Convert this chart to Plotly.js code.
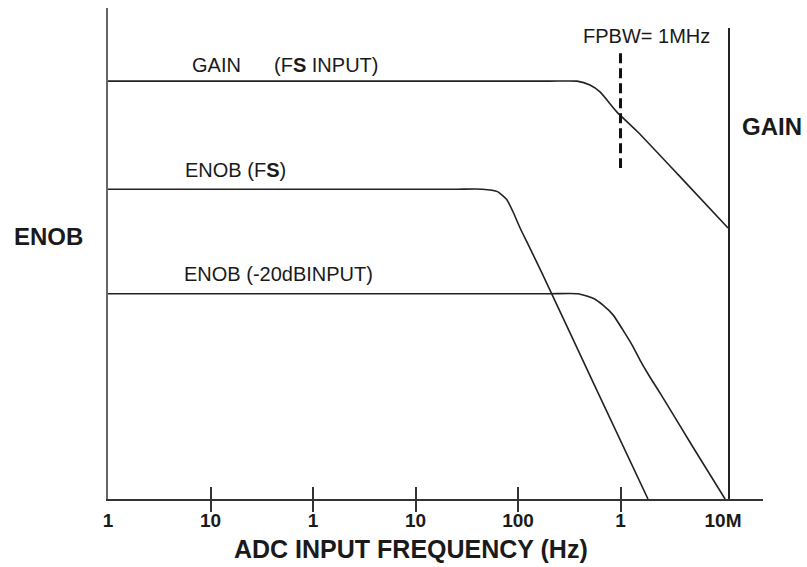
<!DOCTYPE html>
<html>
<head>
<meta charset="utf-8">
<script src="https://cdn.plot.ly/plotly-3.0.1.min.js"></script>
<style>html,body{margin:0;padding:0;background:#fff;}#chart{width:807px;height:567px;}</style>
</head>
<body>
<div id="chart"></div>
<script>
// Frequency axis: decade positions (log scale), with the reference's tick labels
const tickValues = [1, 10, 100, 1e3, 1e4, 1e5, 1e6];
const tickLabels = ["1", "10", "1", "10", "100", "1", "10M"];
const innerTickValues = [10, 100, 1e3, 1e4, 1e5];

// GAIN (FS INPUT) curve, log10(frequency) and relative level
const gainLogF = [0, 4.30, 4.576, 4.702, 4.800, 4.966, 5.171, 5.61, 6.049];
const gainLevel = [8.51, 8.51, 8.51, 8.43, 8.29, 7.88, 7.47, 6.50, 5.52];

// ENOB (FS) curve
const enobFsLogF = [0, 3.40, 3.65, 3.80, 3.89, 3.951, 4.020, 4.088, 4.234, 4.75, 5.268];
const enobFsLevel = [6.31, 6.31, 6.31, 6.26, 6.10, 5.85, 5.52, 5.23, 4.60, 2.30, 0];

// ENOB (-20dB INPUT) curve
const enob20LogF = [0, 4.30, 4.585, 4.732, 4.829, 4.927, 5.024, 5.112, 5.190, 5.288, 5.385, 5.70, 6.020];
const enob20Level = [4.18, 4.18, 4.18, 4.09, 3.95, 3.75, 3.44, 3.14, 2.83, 2.48, 2.16, 1.08, 0];

// FPBW marker at 1 MHz (the "1" tick), vertical extent in level units
const fpbwFreq = 1e5;
const fpbwLevels = [9.08, 6.74];

const toHz = a => a.map(v => Math.pow(10, v));
const curveLine = {color: '#222', width: 1.6, shape: 'spline', smoothing: 0.5};

const logRange = [0, 6.39];

const traces = [
  {x: toHz(gainLogF), y: gainLevel, type: 'scatter', mode: 'lines', line: curveLine, hoverinfo: 'skip'},
  {x: toHz(enobFsLogF), y: enobFsLevel, type: 'scatter', mode: 'lines', line: curveLine, hoverinfo: 'skip'},
  {x: toHz(enob20LogF), y: enob20Level, type: 'scatter', mode: 'lines', line: curveLine, hoverinfo: 'skip'},
  {x: [fpbwFreq, fpbwFreq], y: fpbwLevels, type: 'scatter', mode: 'lines', line: {color: '#111', width: 3, dash: '10px,5px'}, hoverinfo: 'skip'},
  {x: [1], y: [0], type: 'scatter', xaxis: 'x2', yaxis: 'y', mode: 'markers', marker: {opacity: 0}, hoverinfo: 'skip'},
  {x: [1], y: [0], type: 'scatter', xaxis: 'x3', yaxis: 'y', mode: 'markers', marker: {opacity: 0}, hoverinfo: 'skip'},
  {x: [1], y: [0], type: 'scatter', xaxis: 'x', yaxis: 'y2', mode: 'markers', marker: {opacity: 0}, hoverinfo: 'skip'}
];

const font = 'Liberation Sans, Arial, sans-serif';
const txt = '#1a1a1a';
const ann = (text, x, y, size, bold) => ({
  text: bold ? '<b>' + text + '</b>' : text,
  xref: 'paper', yref: 'paper', x: x, y: y,
  xanchor: 'center', yanchor: 'middle', showarrow: false,
  font: {family: font, size: size, color: txt}
});

const layout = {
  width: 807, height: 567,
  margin: {l: 108, r: 44, t: 8, b: 68},
  paper_bgcolor: '#fff', plot_bgcolor: 'rgba(0,0,0,0)',
  showlegend: false,
  xaxis: {
    type: 'log', range: logRange, autorange: false, showgrid: false, zeroline: false,
    showline: true, linecolor: '#333', linewidth: 2,
    tickmode: 'array', tickvals: tickValues, ticktext: tickLabels,
    ticks: 'outside', ticklen: 3, tickcolor: 'rgba(0,0,0,0)',
    tickfont: {family: font, size: 19, color: txt, weight: 'bold'}
  },
  xaxis2: {
    type: 'log', range: logRange, autorange: false, overlaying: 'x', anchor: 'y', side: 'bottom',
    showgrid: false, zeroline: false, showline: false,
    tickmode: 'array', tickvals: innerTickValues, showticklabels: false,
    ticks: 'outside', ticklen: 12, tickwidth: 2, tickcolor: '#333'
  },
  xaxis3: {
    type: 'log', range: logRange, autorange: false, overlaying: 'x', anchor: 'y', side: 'bottom',
    showgrid: false, zeroline: false, showline: false,
    tickmode: 'array', tickvals: innerTickValues, showticklabels: false,
    ticks: 'inside', ticklen: 12, tickwidth: 2, tickcolor: '#333'
  },
  yaxis: {
    range: [0, 10], autorange: false, showgrid: false, zeroline: false,
    showline: true, linecolor: '#666', linewidth: 2,
    showticklabels: false, ticks: ''
  },
  yaxis2: {
    range: [0, 10], autorange: false, domain: [0, 0.959], anchor: 'free', position: 0.948,
    showgrid: false, zeroline: false, showline: true, linecolor: '#222', linewidth: 2,
    showticklabels: false, ticks: ''
  },
  annotations: [
    ann('GAIN', 0.166, 0.884, 20, false),
    ann('(F<b>S</b> INPUT)', 0.333, 0.884, 20, false),
    ann('ENOB (F<b>S</b>)', 0.194, 0.670, 20, false),
    ann('ENOB (-20dBINPUT)', 0.261, 0.459, 20, false),
    ann('FPBW= 1MHz', 0.822, 0.943, 20, false),
    ann('GAIN', 1.0145, 0.759, 24, true),
    ann('ENOB', -0.0916, 0.535, 24, true),
    ann('ADC INPUT FREQUENCY (Hz)', 0.463, -0.102, 25, true)
  ]
};

Plotly.newPlot('chart', traces, layout, {staticPlot: true, displayModeBar: false});
</script>
</body>
</html>
